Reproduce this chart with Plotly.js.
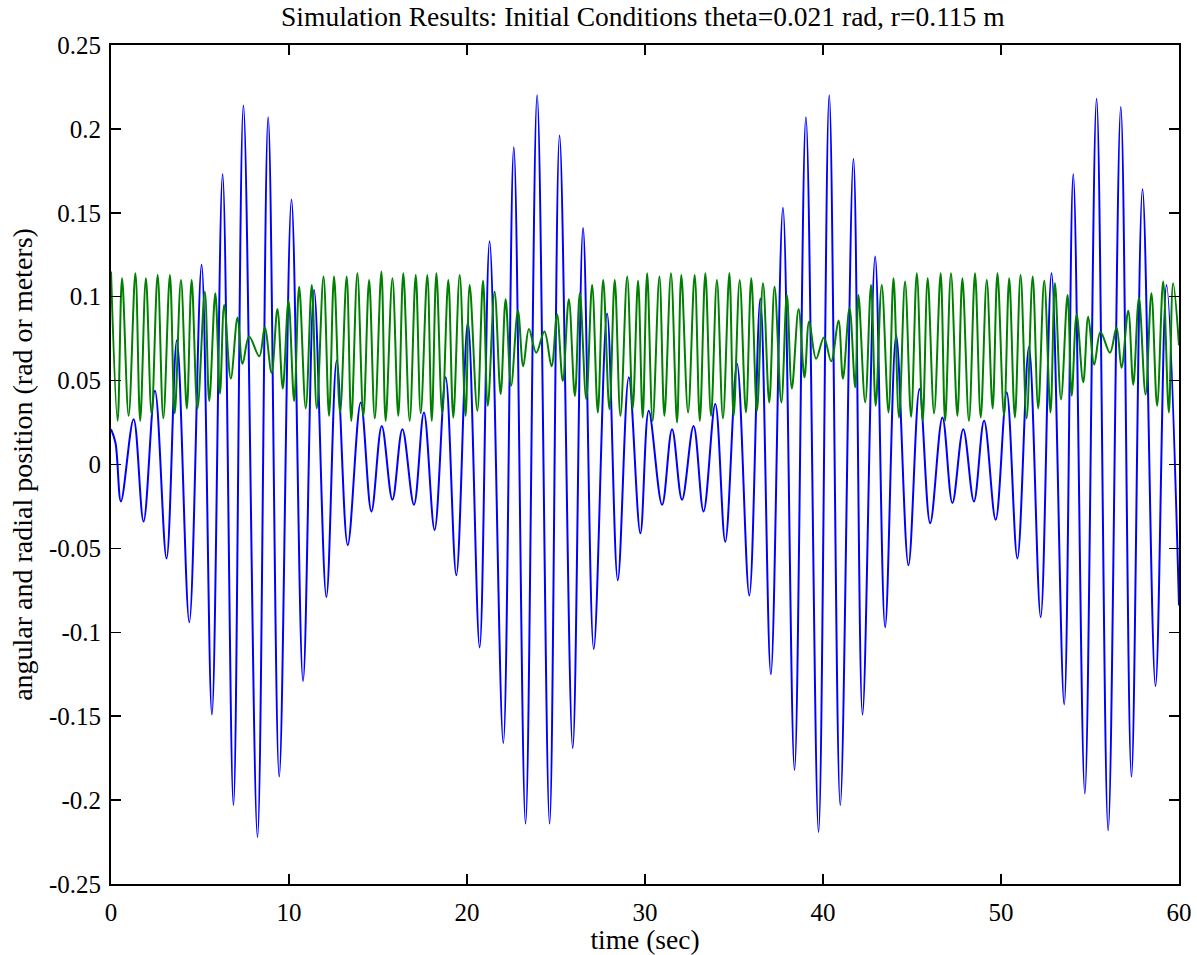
<!DOCTYPE html>
<html>
<head>
<meta charset="utf-8">
<script src="https://cdn.plot.ly/plotly-3.0.1.min.js"></script>
<style>
  html, body { margin: 0; padding: 0; background: #ffffff; }
  #chart { width: 1197px; height: 955px; }
</style>
</head>
<body>
<div id="chart"></div>
<script>
// Angular position (rad): extrema
const thetaTime = [
  0, 0.25, 0.56, 1.27, 1.83, 2.47, 3.12, 3.70, 4.40, 5.09, 5.67, 6.27, 6.88, 7.44, 8.23, 8.83, 9.45,
  10.14, 10.79, 11.41, 12.10, 12.68, 13.30, 14.03, 14.63, 15.21, 15.81, 16.37, 17.02, 17.58, 18.18, 18.80, 19.40,
  20.05, 20.71, 21.27, 22.04, 22.63, 23.29, 23.94, 24.64, 25.20, 25.94, 26.52, 27.12, 27.87, 28.47, 29.09, 29.74,
  30.21, 30.96, 31.52, 32.08, 32.73, 33.29, 33.95, 34.51, 35.17, 35.86, 36.48, 37.07, 37.75, 38.40, 39.04, 39.75,
  40.35, 40.97, 41.71, 42.22, 42.93, 43.49, 44.11, 44.80, 45.42, 46.02, 46.71, 47.27, 47.88, 48.48, 49.05, 49.70,
  50.32, 50.92, 51.57, 52.23, 52.84, 53.55, 54.06, 54.71, 55.37, 56.02, 56.73, 57.33, 57.95, 58.68, 59.30, 60.00
];
const thetaValue = [
  0.021, 0.013, -0.022, 0.027, -0.034, 0.044, -0.056, 0.074, -0.094, 0.119, -0.149, 0.173, -0.203, 0.214, -0.222, 0.207, -0.186,
  0.158, -0.129, 0.104, -0.079, 0.062, -0.048, 0.037, -0.028, 0.023, -0.021, 0.021, -0.024, 0.031, -0.039, 0.052, -0.066,
  0.085, -0.109, 0.133, -0.166, 0.189, -0.214, 0.220, -0.214, 0.196, -0.169, 0.141, -0.110, 0.090, -0.069, 0.052, -0.041,
  0.032, -0.024, 0.021, -0.021, 0.023, -0.028, 0.036, -0.046, 0.060, -0.078, 0.099, -0.125, 0.153, -0.182, 0.207, -0.219,
  0.220, -0.203, 0.182, -0.149, 0.124, -0.097, 0.077, -0.060, 0.045, -0.035, 0.028, -0.023, 0.021, -0.022, 0.026, -0.033,
  0.043, -0.056, 0.070, -0.091, 0.114, -0.143, 0.173, -0.196, 0.218, -0.218, 0.213, -0.186, 0.164, -0.132, 0.107, -0.084
];

// Radial position (m): extrema
const radiusTime = [
  0.00, 0.37, 0.62, 0.99, 1.37, 1.64, 1.96, 2.28, 2.62, 2.94, 3.31, 3.58, 3.93, 4.26, 4.53, 4.86, 5.27, 5.52, 5.86, 6.12,
  6.36, 6.73, 7.11, 7.39, 7.76, 8.33, 8.64, 9.02, 9.35, 9.65, 9.97,
  10.29, 10.57, 10.94, 11.28, 11.56, 11.94, 12.25, 12.53, 12.87, 13.24, 13.50, 13.84, 14.18, 14.50, 14.82, 15.19, 15.43,
  15.81, 16.14, 16.42, 16.78, 17.12, 17.40, 17.77, 18.02, 18.28, 18.61, 18.95, 19.23, 19.59, 19.92,
  20.15, 20.58, 20.90, 21.17, 21.55, 21.89, 22.17, 22.48, 22.86, 23.16, 23.48, 23.89, 24.35, 24.75, 25.06, 25.38, 25.72,
  26.06, 26.34, 26.70, 27.03, 27.35, 27.65, 28.00, 28.30, 28.62, 29.00, 29.31, 29.61, 29.87,
  30.12, 30.43, 30.81, 31.09, 31.46, 31.80, 32.04, 32.42, 32.79, 33.08, 33.39, 33.71, 34.04, 34.38, 34.74, 34.98, 35.32,
  35.67, 35.97, 36.29, 36.63, 36.98, 37.28, 37.66, 37.97, 38.25, 38.63, 38.96, 39.22, 39.61, 40.05,
  40.46, 40.87, 41.12, 41.49, 41.81, 41.99, 42.37, 42.70, 42.96, 43.30, 43.68, 43.96, 44.27, 44.61, 44.95, 45.27, 45.60,
  45.88, 46.24, 46.61, 46.86, 47.19, 47.55, 47.83, 48.20, 48.54, 48.86, 49.20, 49.53, 49.80, 50.17, 50.46,
  50.78, 51.10, 51.44, 51.78, 52.09, 52.43, 52.78, 53.03, 53.37, 53.74, 53.97, 54.25, 54.62, 54.90, 55.24, 55.59,
  56.12, 56.49, 56.77, 57.15, 57.43, 57.75, 58.12, 58.45, 58.77, 59.11, 59.43, 59.67, 60.00
];
const radiusValue = [
  0.115, 0.026, 0.111, 0.029, 0.114, 0.026, 0.111, 0.030, 0.113, 0.0275, 0.113, 0.0305, 0.110, 0.0334, 0.110, 0.0334, 0.103, 0.0379, 0.102, 0.0423,
  0.095, 0.0512, 0.0876, 0.060, 0.0763, 0.0645, 0.0817, 0.0547, 0.0926, 0.0453, 0.0976,
  0.0379, 0.106, 0.0334, 0.107, 0.0334, 0.112, 0.029, 0.112, 0.031, 0.112, 0.026, 0.114, 0.029, 0.110, 0.0275, 0.115, 0.026,
  0.111, 0.029, 0.114, 0.026, 0.113, 0.0305, 0.113, 0.026, 0.114, 0.0305, 0.110, 0.028, 0.113, 0.029,
  0.107, 0.032, 0.1095, 0.035, 0.103, 0.042, 0.0985, 0.047, 0.0917, 0.0586, 0.0808, 0.0666, 0.0793, 0.0586, 0.0896, 0.0497, 0.0985,
  0.0408, 0.102, 0.039, 0.107, 0.031, 0.110, 0.033, 0.110, 0.029, 0.112, 0.0334, 0.1095, 0.028,
  0.114, 0.026, 0.112, 0.029, 0.114, 0.025, 0.113, 0.031, 0.113, 0.026, 0.114, 0.029, 0.110, 0.0275, 0.114, 0.029, 0.110,
  0.031, 0.111, 0.032, 0.108, 0.037, 0.106, 0.037, 0.101, 0.0453, 0.0926, 0.052, 0.0852, 0.063, 0.0757,
  0.0615, 0.0858, 0.0512, 0.0932, 0.046, 0.101, 0.037, 0.107, 0.035, 0.107, 0.031, 0.111, 0.028, 0.109, 0.0284, 0.114, 0.026,
  0.111, 0.0305, 0.114, 0.026, 0.114, 0.029, 0.111, 0.026, 0.114, 0.028, 0.110, 0.0334, 0.114, 0.029, 0.111,
  0.028, 0.113, 0.0275, 0.112, 0.0334, 0.1095, 0.031, 0.108, 0.0388, 0.101, 0.041, 0.0896, 0.049, 0.088, 0.0595, 0.079,
  0.0666, 0.0817, 0.0577, 0.0917, 0.0476, 0.0994, 0.0417, 0.102, 0.035, 0.109, 0.031, 0.108, 0.071
];

const xTickVals = [0, 10, 20, 30, 40, 50, 60];
const xTickText = ['0', '10', '20', '30', '40', '50', '60'];
const yTickVals = [-0.25, -0.2, -0.15, -0.1, -0.05, 0, 0.05, 0.1, 0.15, 0.2, 0.25];
const yTickText = ['-0.25', '-0.2', '-0.15', '-0.1', '-0.05', '0', '0.05', '0.1', '0.15', '0.2', '0.25'];

const titleText = 'Simulation Results: Initial Conditions theta=0.021 rad, r=0.115 m';
const xTitle = 'time (sec)';
const yTitle = 'angular and radial position (rad or meters)';

const serif = 'Liberation Serif, Times New Roman, serif';

const traces = [
  {
    x: thetaTime, y: thetaValue, type: 'scatter', mode: 'lines',
    line: { color: '#0000ff', width: 2, shape: 'spline', smoothing: 1 },
    name: 'theta', hoverinfo: 'x+y'
  },
  {
    x: radiusTime, y: radiusValue, type: 'scatter', mode: 'lines',
    line: { color: '#008000', width: 2, shape: 'spline', smoothing: 1 },
    name: 'r', hoverinfo: 'x+y'
  }
];

const axisCommon = {
  showline: true, linecolor: '#000000', linewidth: 2,
  mirror: 'ticks', ticks: 'inside', ticklen: 10, tickwidth: 1.5, tickcolor: '#000000',
  showgrid: false, zeroline: false, automargin: false,
  tickfont: { family: serif, size: 25, color: '#000000' }
};

const layout = {
  width: 1197, height: 955,
  paper_bgcolor: '#ffffff', plot_bgcolor: '#ffffff',
  margin: { l: 111, r: 18, t: 45, b: 71, pad: 0 },
  showlegend: false,
  font: { family: serif, color: '#000000', size: 25 },
  title: {
    text: titleText,
    font: { family: serif, size: 27.5, color: '#000000' },
    xref: 'paper', x: 0.498, xanchor: 'center',
    yref: 'container', y: 0.983, yanchor: 'middle'
  },
  xaxis: Object.assign({}, axisCommon, {
    range: [0, 60], tickmode: 'array', tickvals: xTickVals, ticktext: xTickText,
    ticklabelstandoff: 5,
    title: { text: xTitle, font: { family: serif, size: 27.5, color: '#000000' }, standoff: 2 }
  }),
  yaxis: Object.assign({}, axisCommon, {
    range: [-0.25, 0.25], tickmode: 'array', tickvals: yTickVals, ticktext: yTickText,
    ticklabelstandoff: 3,
    title: { text: yTitle, font: { family: serif, size: 28, color: '#000000' }, standoff: 8 }
  })
};

Plotly.newPlot('chart', traces, layout, { displayModeBar: false, staticPlot: true });
</script>
</body>
</html>
